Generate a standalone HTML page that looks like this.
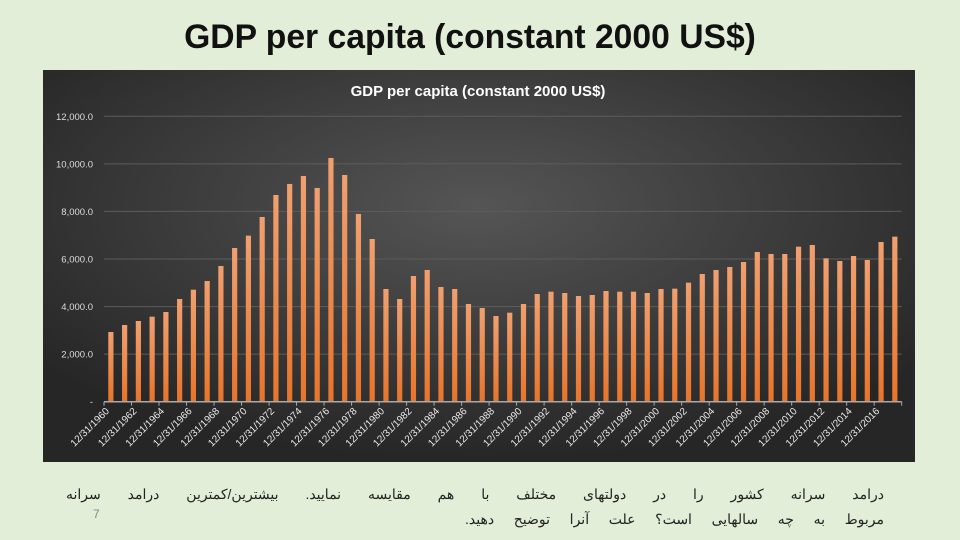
<!DOCTYPE html>
<html><head><meta charset="utf-8">
<style>
html,body{margin:0;padding:0;}
body{width:960px;height:540px;background:#e3eed8;position:relative;overflow:hidden;font-family:"Liberation Sans",sans-serif;}
#main-title{position:absolute;left:0;width:940px;top:18px;text-align:center;font-size:34px;font-weight:bold;color:#111;white-space:nowrap;transform:scaleX(0.99);transform-origin:470px 0;}
.q{position:absolute;direction:rtl;font-family:"Liberation Sans","Noto Sans CJK SC",sans-serif;font-size:14px;line-height:20px;color:#222;text-align:justify;text-align-last:justify;white-space:normal;}
#q1{left:66px;width:818px;top:484px;}
#q2{left:465px;width:419px;top:509px;}
#num{position:absolute;left:93px;top:507px;font-size:12px;color:#888;}
</style></head><body>
<div id="main-title">GDP per capita (constant 2000 US$)</div>
<svg id="chart" width="960" height="540" style="position:absolute;left:0;top:0">
<defs>
<radialGradient id="bg" cx="50%" cy="35%" r="65%">
<stop offset="0" stop-color="#555"/><stop offset="1" stop-color="#262626"/>
</radialGradient>
<linearGradient id="bar" x1="0" y1="0" x2="0" y2="1">
<stop offset="0" stop-color="#f0a070"/><stop offset="1" stop-color="#e8742a"/>
</linearGradient>
</defs>
<rect x="43" y="70" width="872" height="392" fill="url(#bg)"/>
<text x="478" y="96" text-anchor="middle" fill="#fff" font-size="15" font-weight="bold" font-family="Liberation Sans, sans-serif">GDP per capita (constant 2000 US$)</text>
<g id="grid"></g><g id="bars"></g><g id="xaxis"></g>
</svg>
<div id="q1" class="q">درامد سرانه کشور را در دولتهای مختلف با هم مقایسه نمایید. بیشترین/کمترین درامد سرانه</div>
<div id="q2" class="q">مربوط به چه سالهایی است؟ علت آنرا توضیح دهید.</div>
<div id="num">7</div>
<script>
const years = [];
for (let y = 1960; y <= 2017; y++) years.push(y);
const values = [2930,3225,3393,3575,3771,4318,4710,5075,5706,6463,6982,7767,8692,9155,9491,8987,10248,9533,7893,6841,4739,4318,5285,5538,4823,4739,4108,3939,3603,3743,4108,4528,4626,4570,4444,4486,4654,4626,4626,4570,4739,4752,5005,5369,5538,5664,5874,6295,6211,6211,6519,6589,6028,5916,6126,5958,6715,6940];
const yTicks = [0,2000,4000,6000,8000,10000,12000];
const yTickLabels = ["-","2,000.0","4,000.0","6,000.0","8,000.0","10,000.0","12,000.0"];

const NS = "http://www.w3.org/2000/svg";
const x0 = 104, x1 = 901.7, yBase = 401.7, yTop = 116.3, yMax = 12000;
const band = (x1 - x0) / years.length;
const yS = v => yBase - (v / yMax) * (yBase - yTop);
const xS = i => x0 + band * (i + 0.5);
function mk(tag, attrs, parent) {
  const e = document.createElementNS(NS, tag);
  for (const k in attrs) e.setAttribute(k, attrs[k]);
  parent.appendChild(e);
  return e;
}
const grid = document.getElementById('grid');
yTicks.forEach((t, i) => {
  const y = yS(t);
  if (t > 0) {
    const l = mk('line', {x1: x0, x2: x1, y1: y, y2: y, stroke: '#5c5c5c', 'stroke-width': 1}, grid);
    
    
  }
  const tx = mk('text', {x: 93, y: y + 3.5, 'text-anchor': 'end', fill: '#ddd', 'font-size': 9.5, 'font-family': 'Liberation Sans, sans-serif'}, grid);
  tx.textContent = yTickLabels[i];
  
  
});
const bars = document.getElementById('bars');
values.forEach((v, i) => {
  const r = mk('rect', {x: xS(i) - 2.6, y: yS(v), width: 5.2, height: yBase - yS(v), fill: 'url(#bar)'}, bars);
  
  
});
const xa = document.getElementById('xaxis');
const ax = mk('line', {x1: x0, x2: x1, y1: yBase, y2: yBase, stroke: '#aaa', 'stroke-width': 1.5}, xa);


for (let i = 0; i <= years.length; i += 2) {
  const tx0 = x0 + band * i;
  const tk = mk('line', {x1: tx0, x2: tx0, y1: yBase, y2: yBase + 4, stroke: '#aaa', 'stroke-width': 1}, xa);
  
  
}
years.forEach((yr, i) => {
  if (i % 2 !== 0 || yr > 2016) return;
  const cx = xS(i) - 1, cy = yBase + 10;
  const t = mk('text', {x: cx, y: cy, 'text-anchor': 'end', fill: '#e8e8e8', 'font-size': 10, 'font-family': 'Liberation Sans, sans-serif', transform: 'rotate(-45 ' + cx + ' ' + cy + ')'}, xa);
  t.textContent = '12/31/' + yr;
  
  
});
</script>
</body></html>
